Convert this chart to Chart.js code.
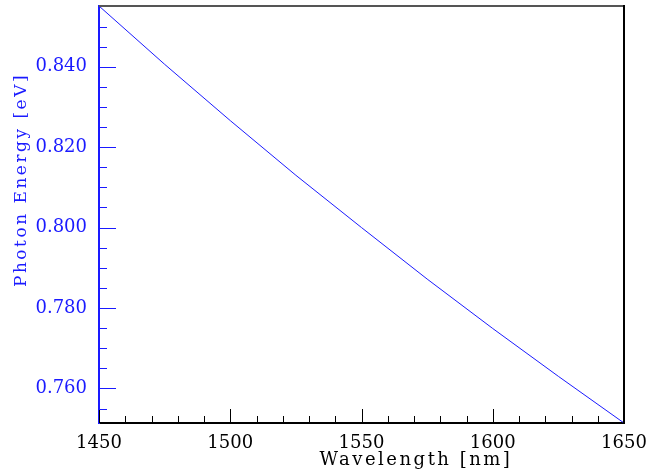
<!DOCTYPE html>
<html>
<head>
<meta charset="utf-8">
<script src="https://cdn.jsdelivr.net/npm/chart.js@4.4.1/dist/chart.umd.min.js"></script>
<style>
  html, body { margin: 0; padding: 0; background: #fff; }
  #wrap { width: 654px; height: 474px; }
</style>
</head>
<body>
<div id="wrap"><canvas id="chartLine"></canvas></div>
<script>
// values
const wavelengths = [1450, 1475, 1500, 1525, 1550, 1575, 1600, 1625, 1650];
const energies = [0.8551, 0.8406, 0.8266, 0.8130, 0.8000, 0.7872, 0.7749, 0.7630, 0.7514];
const xTickLabels = [1450, 1500, 1550, 1600, 1650];
const yTickLabels = [0.760, 0.780, 0.800, 0.820, 0.840];

const BLUE = "#1a1aff";
const tickFont = { family: "DejaVu Serif", size: 18 };

// inward tick marks + frame + axis titles
const frame = {
  id: "frame",
  afterDraw(chart) {
    const ctx = chart.ctx;
    const a = chart.chartArea;
    const xs = chart.scales.x, ys = chart.scales.y;
    ctx.save();
    // x ticks, minor every 10
    ctx.strokeStyle = "#000";
    ctx.lineWidth = 1;
    for (let v = 1450; v <= 1650; v += 10) {
      const px = Math.round(xs.getPixelForValue(v)) + 0.5;
      const len = v % 50 === 0 ? 14 : 7;
      ctx.beginPath();
      ctx.moveTo(px, a.bottom);
      ctx.lineTo(px, a.bottom - len);
      ctx.stroke();
    }
    // y ticks, minor every 0.005
    ctx.strokeStyle = BLUE;
    for (let i = 151; i <= 171; i++) {
      const v = i * 0.005;
      if (v < ys.min || v > ys.max) continue;
      const py = Math.round(ys.getPixelForValue(v)) + 0.5;
      const len = i % 4 === 0 ? 17 : 8;
      ctx.beginPath();
      ctx.moveTo(a.left, py);
      ctx.lineTo(a.left + len, py);
      ctx.stroke();
    }
    // top and right border
    ctx.strokeStyle = "#555";
    ctx.lineWidth = 2;
    ctx.beginPath();
    ctx.moveTo(a.left, a.top);
    ctx.lineTo(a.right, a.top);
    ctx.stroke();
    ctx.strokeStyle = "#000";
    ctx.beginPath();
    ctx.moveTo(a.right, a.top - 1);
    ctx.lineTo(a.right, a.bottom);
    ctx.stroke();
    // axis titles
    ctx.font = "18px 'DejaVu Serif'";
    ctx.letterSpacing = "2.5px";
    ctx.textAlign = "center";
    ctx.textBaseline = "middle";
    ctx.fillStyle = "#000";
    ctx.fillText("Wavelength [nm]", 416, 460);
    ctx.translate(22, 180);
    ctx.rotate(-Math.PI / 2);
    ctx.fillStyle = BLUE;
    ctx.letterSpacing = "2.5px";
    ctx.font = "17px 'DejaVu Serif'";
    ctx.fillText("Photon Energy [eV]", 0, 0);
    ctx.restore();
  }
};

const dataLine = {
  datasets: [
    {
      label: "Photon Energy",
      data: wavelengths.map((w, i) => ({ x: w, y: energies[i] })),
      borderColor: BLUE,
      borderWidth: 1,
      pointRadius: 0,
      tension: 0,
    },
  ],
};

const configLine = {
  type: "line",
  data: dataLine,
  plugins: [frame],
  options: {
    responsive: true,
    maintainAspectRatio: false,
    animation: false,
    layout: { padding: { left: 0, right: 30, top: 6, bottom: 0 } },
    plugins: { legend: { display: false }, tooltip: { enabled: false } },
    scales: {
      x: {
        type: "linear",
        min: 1450,
        max: 1650,
        grid: { display: false },
        border: { display: true, color: "#000", width: 2 },
        afterBuildTicks: (s) => { s.ticks = xTickLabels.map((v) => ({ value: v })); },
        afterFit: (s) => { s.height = 51; s.paddingLeft = 0; s.paddingRight = 0; },
        ticks: { color: "#000", font: tickFont, maxRotation: 0, padding: 2, callback: (v) => String(v) },
      },
      y: {
        type: "linear",
        min: 0.7514,
        max: 0.8551,
        grid: { display: false },
        border: { display: true, color: BLUE, width: 2 },
        afterBuildTicks: (s) => { s.ticks = yTickLabels.map((v) => ({ value: v })); },
        afterFit: (s) => { s.width = 99; s.paddingTop = 0; s.paddingBottom = 0; },
        ticks: {
          color: BLUE,
          font: tickFont,
          padding: 4,
          callback: (v) => v.toFixed(3),
        },
      },
    },
  },
};

new Chart(document.getElementById("chartLine"), configLine);
</script>
</body>
</html>
